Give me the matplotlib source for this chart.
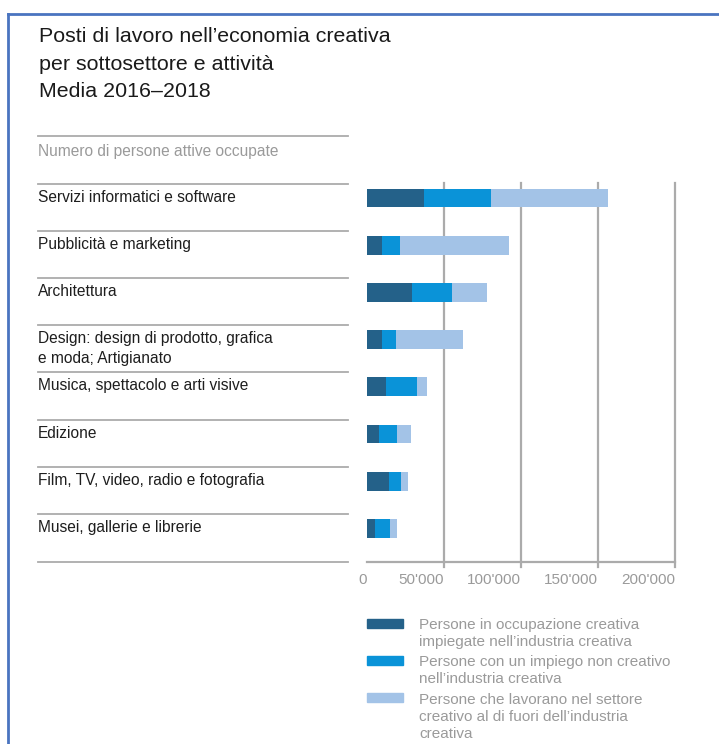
import matplotlib
matplotlib.use("Agg")
import matplotlib.pyplot as plt
from matplotlib.lines import Line2D
from matplotlib.patches import Rectangle
import matplotlib.ticker as mtick

plt.rcParams['font.family'] = ['Liberation Sans', 'DejaVu Sans']

categories = ['Servizi informatici e software', 'Pubblicità e marketing', 'Architettura',
              'Design: design di prodotto, grafica\ne moda; Artigianato',
              'Musica, spettacolo e arti visive', 'Edizione',
              'Film, TV, video, radio e fotografia', 'Musei, gallerie e librerie']
creative_in_industry = [37100, 10100, 29500, 10100, 12500, 8200, 14700, 5400]
noncreative_in_industry = [43400, 11500, 25900, 8700, 19900, 11400, 7700, 9900]
creative_outside = [75800, 70800, 22700, 43800, 6900, 9100, 4100, 4100]
series_labels = ['Persone in occupazione creativa\nimpiegate nell\u2019industria creativa',
                 'Persone con un impiego non creativo\nnell\u2019industria creativa',
                 'Persone che lavorano nel settore\ncreativo al di fuori dell\u2019industria\ncreativa']
ticks = [0, 50000, 100000, 150000, 200000]

colors = ['#246189', '#0a93d8', '#a3c3e7']
grey_line = '#ababab'
grey_text = '#9a9a9a'

W, H = 719, 744
fig = plt.figure(figsize=(W / 100, H / 100), dpi=100)

def fx(x):
    return x / W

def fy(y):
    return 1 - y / H

# bar axes, placed by pixel edges
ax_l, ax_r, ax_t, ax_b = 366.7, 675.0, 183.0, 562.0
ax = fig.add_axes([fx(ax_l), fy(ax_b), fx(ax_r - ax_l), (ax_b - ax_t) / H])
row = 47.2
first = 198.0
ax.set_ylim((ax_b - first) / row, (ax_t - first) / row)
ax.set_xlim(0, 200000)

ypos = list(range(len(categories)))
left = [0] * len(categories)
for vals, c in zip([creative_in_industry, noncreative_in_industry, creative_outside], colors):
    ax.barh(ypos, vals, left=left, height=0.40, color=c, zorder=3)
    left = [a + b for a, b in zip(left, vals)]

for t in ticks[1:]:
    ax.plot([t, t], [(ax_b + 5 - first) / row, (ax_t - first) / row], color=grey_line,
            lw=1.6, clip_on=False, zorder=1)

for s in ['top', 'right', 'left']:
    ax.spines[s].set_visible(False)
ax.spines['bottom'].set_color(grey_line)
ax.spines['bottom'].set_linewidth(1.6)
ax.set_yticks([])
ax.set_xticks(ticks)
ax.xaxis.set_major_formatter(mtick.FuncFormatter(lambda x, p: format(int(x), ',').replace(',', "'")))
ax.tick_params(axis='x', length=0, pad=8, labelsize=11, labelcolor=grey_text)
for lab in ax.get_xticklabels():
    lab.set_ha('right')

# title
fig.text(fx(39), fy(27.5), 'Posti di lavoro nell\u2019economia creativa\nper sottosettore e attività\nMedia 2016\u20132018',
         fontsize=15.4, va='top', ha='left', linespacing=1.56, color='#1a1a1a')

# left-side rule lines and labels
line_ys = [136, 184, 231, 278, 325, 372, 420, 467, 514, 562]
for y in line_ys:
    fig.add_artist(Line2D([fx(38), fx(348)], [fy(y), fy(y)], color=grey_line, lw=1.3))
fig.text(fx(38), fy(144), 'Numero di persone attive occupate', fontsize=11.2, color=grey_text,
         va='top', ha='left')
for y, lab in zip(line_ys[1:], categories):
    fig.text(fx(38), fy(y + 6), lab, fontsize=11.2, color='#1e1e1e', va='top', ha='left',
             linespacing=1.4)

# legend
leg_ys = [623, 660, 697.5]
for y, c, lab in zip(leg_ys, colors, series_labels):
    fig.add_artist(Rectangle((fx(366.5), fy(y + 4.5)), fx(36.5), 9 / H, color=c,
                             transform=fig.transFigure))
    fig.text(fx(419), fy(y - 5), lab, fontsize=11, color=grey_text, va='top', ha='left',
             linespacing=1.28)

# blue frame on left and top
fig.add_artist(Line2D([fx(8), fx(8)], [fy(14), 0], color='#4a74c0', lw=2))
fig.add_artist(Line2D([fx(8), 1], [fy(14), fy(14)], color='#4a74c0', lw=2))

fig.savefig('out.png', dpi=100, facecolor='white')
